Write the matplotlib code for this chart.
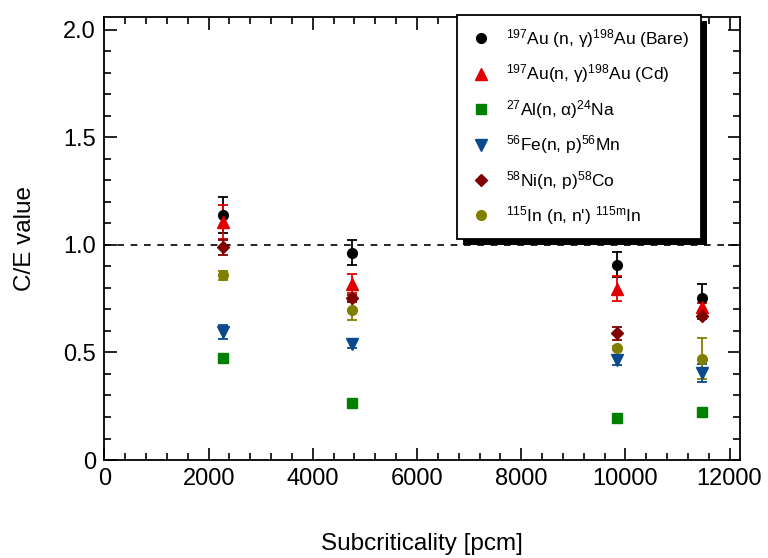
# C/E values vs subcriticality for activation foils
import numpy as np
import matplotlib
matplotlib.use("Agg")
import matplotlib.pyplot as plt
from matplotlib.ticker import MultipleLocator, FuncFormatter
from matplotlib.patches import Rectangle

plt.rcParams['font.family'] = ['Liberation Sans', 'DejaVu Sans']
plt.rcParams['mathtext.fontset'] = 'custom'
plt.rcParams['mathtext.rm'] = 'Liberation Sans'
plt.rcParams['mathtext.it'] = 'Liberation Sans'

# subcriticality [pcm]
subcrit = [2270, 4750, 9830, 11470]

# C/E values and their errors
au_bare = [1.14, 0.964, 0.908, 0.754]
au_bare_err = [0.085, 0.058, 0.058, 0.065]
au_cd = [1.106, 0.82, 0.797, 0.712]
au_cd_err = [0.08, 0.045, 0.058, 0.02]
al = [0.476, 0.263, 0.195, 0.224]
al_err = [0.01, 0.01, 0.008, 0.012]
fe = [0.596, 0.539, 0.464, 0.405]
fe_err = [0.033, 0.017, 0.02, 0.04]
ni = [0.99, 0.751, 0.59, 0.669]
ni_err = [0.035, 0.015, 0.03, 0.015]
inn = [0.858, 0.697, 0.521, 0.472]
inn_err = [0.02, 0.045, 0.01, 0.097]

labels = [r'$^{197}$Au (n, γ)$^{198}$Au (Bare)',
          r'$^{197}$Au(n, γ)$^{198}$Au (Cd)',
          r'$^{27}$Al(n, α)$^{24}$Na',
          r'$^{56}$Fe(n, p)$^{56}$Mn',
          r'$^{58}$Ni(n, p)$^{58}$Co',
          r"$^{115}$In (n, n') $^{115m}$In"]

series = [(au_bare, au_bare_err, 'o', 'black', 7),
          (au_cd, au_cd_err, '^', '#e00000', 8),
          (al, al_err, 's', '#008000', 6.5),
          (fe, fe_err, 'v', '#0a4a8c', 8),
          (ni, ni_err, 'D', '#800000', 6),
          (inn, inn_err, 'o', '#808000', 7)]

fig = plt.figure(figsize=(7.68, 5.58), dpi=100)
ax = fig.add_axes([0.136, 0.1756, 0.8275, 0.794])

ax.axhline(1.0, color='black', ls=(0, (4, 4)), lw=1.2, zorder=1)

for (vals, errs, mk, col, ms), lab in zip(series, labels):
    ax.errorbar(subcrit, vals, yerr=errs, fmt=mk, color=col, ms=ms,
                mec=col, capsize=3.5, elinewidth=1.3, capthick=1.3,
                label=lab, zorder=3)

ax.set_xlim(0, 12200)
ax.set_ylim(0, 2.06)
ax.xaxis.set_major_locator(MultipleLocator(2000))
ax.xaxis.set_minor_locator(MultipleLocator(400))
ax.yaxis.set_major_locator(MultipleLocator(0.5))
ax.yaxis.set_minor_locator(MultipleLocator(0.1))
ax.yaxis.set_major_formatter(FuncFormatter(lambda v, p: '0' if v == 0 else f'{v:.1f}'))
ax.tick_params(which='both', direction='in', top=True, right=True, width=1.2)
ax.tick_params(which='major', length=9, labelsize=17, pad=6)
ax.tick_params(which='minor', length=5)
for s in ax.spines.values():
    s.set_linewidth(1.3)

ax.set_xlabel('Subcriticality [pcm]', fontsize=17.5, labelpad=31)
ax.set_ylabel('C/E value', fontsize=17.5, labelpad=20)

handles, labs = ax.get_legend_handles_labels()
handles = [h[0] for h in handles]
leg = ax.legend(handles, labs, loc='upper right', bbox_to_anchor=(0.9386, 1.0045),
                borderaxespad=0, fontsize=12.5, frameon=True, fancybox=False,
                edgecolor='black', framealpha=1, labelspacing=0.72,
                handletextpad=0.8, borderpad=0.7, handlelength=1.3)
leg.get_frame().set_linewidth(1.3)

# black drop shadow behind the legend box
fig.canvas.draw()
bb = leg.get_frame().get_window_extent()
shadow = Rectangle((bb.x0 + 6, bb.y0 - 6), bb.width, bb.height, transform=None,
                   facecolor='black', edgecolor='none', zorder=4.9, clip_on=False)
ax.add_artist(shadow)

fig.savefig('out.png', dpi=100)
